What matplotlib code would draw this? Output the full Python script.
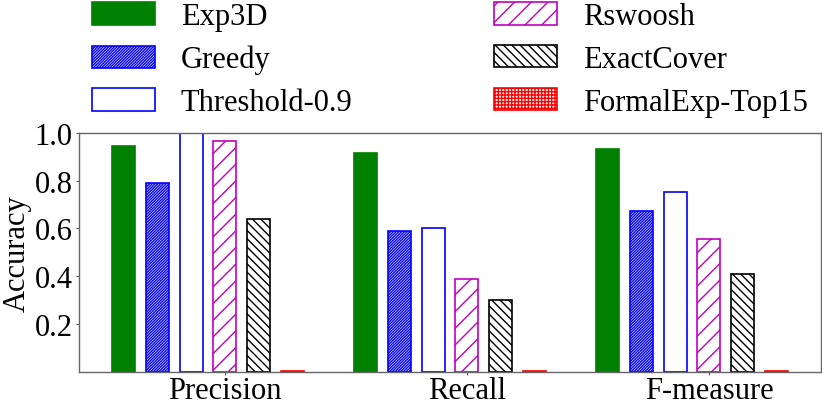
import numpy as np
import matplotlib
matplotlib.use('Agg')
import matplotlib.pyplot as plt

plt.rcParams['font.family'] = ['Liberation Serif', 'DejaVu Serif']
plt.rcParams['hatch.linewidth'] = 1.0

# Data
metrics = ['Precision', 'Recall', 'F-measure']
methods = ['Exp3D', 'Greedy', 'Threshold-0.9', 'Rswoosh', 'ExactCover', 'FormalExp-Top15']
exp3d = [0.945, 0.917, 0.930]
greedy = [0.790, 0.587, 0.674]
threshold = [1.000, 0.600, 0.752]
rswoosh = [0.965, 0.386, 0.553]
exactcover = [0.638, 0.299, 0.409]
formalexp = [0.003, 0.003, 0.003]
yticks = [0.2, 0.4, 0.6, 0.8, 1.0]

series = [exp3d, greedy, threshold, rswoosh, exactcover, formalexp]
styles = [
    dict(facecolor='green', edgecolor='green', hatch=None),
    dict(facecolor='white', edgecolor='blue', hatch='/' * 12),
    dict(facecolor='white', edgecolor='blue', hatch=None),
    dict(facecolor='white', edgecolor='m', hatch='//'),
    dict(facecolor='white', edgecolor='black', hatch='\\' * 4),
    dict(facecolor='white', edgecolor='red', hatch='+' * 5),
]

fig = plt.figure(figsize=(8.22, 4.06), dpi=100)
ax = fig.add_axes([0.0961, 0.0825, 0.9027, 0.588])

x = np.arange(len(metrics))
pitch = 0.14
width = 0.095
for i, (vals, st) in enumerate(zip(series, styles)):
    ax.bar(x + (i - 3) * pitch, vals, width, label=methods[i],
           linewidth=1.2, **st)

ax.set_xlim(-0.603, 2.463)
ax.set_ylim(0, 1.0)
ax.set_xticks(x)
ax.set_xticklabels(metrics, fontsize=22)
ax.set_yticks(yticks)
ax.set_yticklabels(['%.1f' % v for v in yticks], fontsize=22)
ax.set_ylabel('Accuracy', fontsize=22, labelpad=2)
ax.tick_params(axis='both', length=2.5, width=0.8, color='0.35', pad=2)
ax.tick_params(axis='x', pad=1)
for sp in ax.spines.values():
    sp.set_color('0.4')
    sp.set_linewidth(1.0)

fig.legend(loc='upper left', bbox_to_anchor=(0.0931, 1.03), ncol=2,
           frameon=False, fontsize=22, borderpad=0, handlelength=2.06,
           handleheight=0.75, handletextpad=0.85, labelspacing=0.45,
           columnspacing=4.63)

fig.savefig('out.png', dpi=100)
